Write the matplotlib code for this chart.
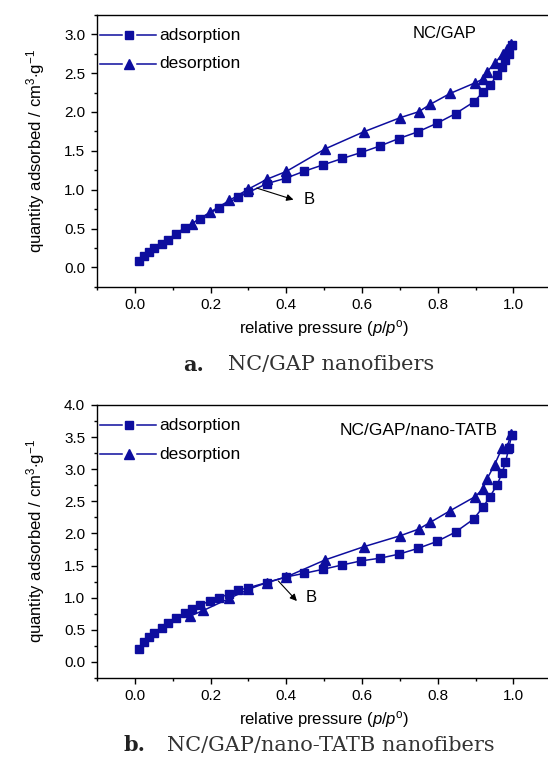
import matplotlib
matplotlib.use("Agg")
import matplotlib.pyplot as plt
from matplotlib.ticker import MultipleLocator

plt.rcParams["font.family"] = ["Liberation Sans", "DejaVu Sans"]
plt.rcParams["mathtext.fontset"] = "custom"
plt.rcParams["mathtext.rm"] = "Liberation Sans"
plt.rcParams["mathtext.it"] = "Liberation Sans:italic"

BLUE = "#0d0d9e"

# ---- NC/GAP isotherm ----
a_ads_p = [0.011, 0.024, 0.038, 0.051, 0.071, 0.088, 0.108, 0.132, 0.172, 0.223,
           0.273, 0.300, 0.348, 0.400, 0.448, 0.498, 0.548, 0.598, 0.648, 0.697,
           0.747, 0.798, 0.847, 0.895, 0.919, 0.939, 0.957, 0.970, 0.979, 0.988, 0.996]
a_ads_q = [0.081, 0.145, 0.197, 0.244, 0.308, 0.359, 0.436, 0.509, 0.628, 0.765,
           0.902, 0.966, 1.077, 1.150, 1.239, 1.321, 1.402, 1.479, 1.564, 1.658,
           1.744, 1.855, 1.979, 2.128, 2.252, 2.350, 2.474, 2.573, 2.667, 2.752, 2.859]
a_des_p = [0.994, 0.983, 0.972, 0.950, 0.930, 0.919, 0.899, 0.833, 0.780, 0.750,
           0.701, 0.604, 0.503, 0.400, 0.350, 0.300, 0.250, 0.198, 0.150]
a_des_q = [2.872, 2.816, 2.752, 2.624, 2.517, 2.423, 2.376, 2.239, 2.098, 2.004,
           1.927, 1.744, 1.526, 1.235, 1.137, 1.009, 0.863, 0.709, 0.560]

# ---- NC/GAP/nano-TATB isotherm ----
b_ads_p = [0.011, 0.024, 0.037, 0.050, 0.071, 0.088, 0.108, 0.132, 0.150, 0.172,
           0.198, 0.223, 0.250, 0.273, 0.300, 0.348, 0.400, 0.448, 0.498, 0.548,
           0.598, 0.648, 0.697, 0.747, 0.798, 0.847, 0.895, 0.919, 0.937, 0.957,
           0.970, 0.979, 0.988, 0.995]
b_ads_q = [0.208, 0.312, 0.385, 0.453, 0.531, 0.609, 0.677, 0.766, 0.818, 0.885,
           0.948, 1.000, 1.062, 1.115, 1.156, 1.234, 1.323, 1.380, 1.443, 1.510,
           1.573, 1.615, 1.677, 1.766, 1.875, 2.021, 2.224, 2.406, 2.562, 2.760,
           2.937, 3.109, 3.328, 3.526]
b_des_p = [0.994, 0.982, 0.970, 0.950, 0.930, 0.919, 0.899, 0.833, 0.780, 0.750,
           0.701, 0.604, 0.503, 0.400, 0.348, 0.300, 0.250, 0.181, 0.146]
b_des_q = [3.542, 3.328, 3.328, 3.068, 2.844, 2.693, 2.573, 2.354, 2.172, 2.068,
           1.964, 1.792, 1.589, 1.323, 1.234, 1.130, 0.990, 0.802, 0.714]

panels = [
    dict(ads=(a_ads_p, a_ads_q), des=(a_des_p, a_des_q), ylim=(-0.25, 3.25),
         name="NC/GAP", name_xy=(0.694, 0.93), name_size=12,
         arrow=((0.322, 1.021), (0.419, 0.872)), b_xy=(0.445, 0.872),
         rect=[0.177, 0.625, 0.829, 0.3556],
         cap_letter="a.", cap_text="NC/GAP nanofibers",
         cap_x=(183, 228), cap_y=0.523),
    dict(ads=(b_ads_p, b_ads_q), des=(b_des_p, b_des_q), ylim=(-0.25, 4.0),
         name="NC/GAP/nano-TATB", name_xy=(0.535, 0.905), name_size=12.5,
         arrow=((0.379, 1.26), (0.428, 0.948)), b_xy=(0.45, 1.0),
         rect=[0.177, 0.1137, 0.829, 0.357],
         cap_letter="b.", cap_text="NC/GAP/nano-TATB nanofibers",
         cap_x=(124, 167), cap_y=0.026),
]

fig = plt.figure(figsize=(5.48, 7.65), dpi=100)
W = 548.0

for pn in panels:
    ax = fig.add_axes(pn["rect"])
    ax.plot(*pn["ads"], color=BLUE, lw=1.1, marker="s", ms=5.8, mec=BLUE, zorder=3)
    ax.plot(*pn["des"], color=BLUE, lw=1.1, marker="^", ms=7.0, mec=BLUE, zorder=3)

    ax.set_xlim(-0.1, 1.1)
    ax.set_ylim(*pn["ylim"])
    ax.xaxis.set_major_locator(MultipleLocator(0.2))
    ax.xaxis.set_minor_locator(MultipleLocator(0.1))
    ax.yaxis.set_major_locator(MultipleLocator(0.5))
    ax.yaxis.set_minor_locator(MultipleLocator(0.25))
    ax.tick_params(which="both", direction="out", labelsize=11, width=1.0,
                   top=False, right=False)
    ax.tick_params(which="major", length=4.5)
    ax.tick_params(which="minor", length=2.5)
    ax.tick_params(axis="y", pad=4)
    for sp in ax.spines.values():
        sp.set_linewidth(1.0)
    ax.set_xlabel("relative pressure ($\\it{p}$/$\\it{p}$$^{\\rm o}$)", fontsize=12, labelpad=4)
    ax.set_ylabel("quantity adsorbed / cm$^{3}$$\\cdot$g$^{-1}$", fontsize=12, labelpad=12)

    # legend drawn as Origin-style line-marker-line entries
    for i, (mk, ms, lab) in enumerate([("s", 5.8, "adsorption"), ("^", 7.0, "desorption")]):
        yy = 0.925 - i * 0.105
        ax.plot([0.006, 0.055], [yy, yy], color=BLUE, lw=1.1, transform=ax.transAxes)
        ax.plot([0.087, 0.130], [yy, yy], color=BLUE, lw=1.1, transform=ax.transAxes)
        ax.plot([0.071], [yy], marker=mk, ms=ms, color=BLUE, transform=ax.transAxes)
        ax.text(0.138, yy, lab, transform=ax.transAxes, fontsize=12.5, va="center")

    ax.text(*pn["name_xy"], pn["name"], transform=ax.transAxes,
            fontsize=pn["name_size"], va="center")

    ax.annotate("", xy=pn["arrow"][1], xytext=pn["arrow"][0],
                arrowprops=dict(arrowstyle="-|>", color="black", lw=0.8,
                                mutation_scale=10, shrinkA=0, shrinkB=0))
    ax.text(*pn["b_xy"], "B", fontsize=12, va="center")

    fig.text(pn["cap_x"][0] / W, pn["cap_y"], pn["cap_letter"], fontsize=15,
             fontweight="bold", family="DejaVu Serif", color="#222222", va="center")
    fig.text(pn["cap_x"][1] / W, pn["cap_y"], pn["cap_text"], fontsize=15,
             family="DejaVu Serif", color="#333333", va="center")

fig.savefig("out.png", dpi=100)
